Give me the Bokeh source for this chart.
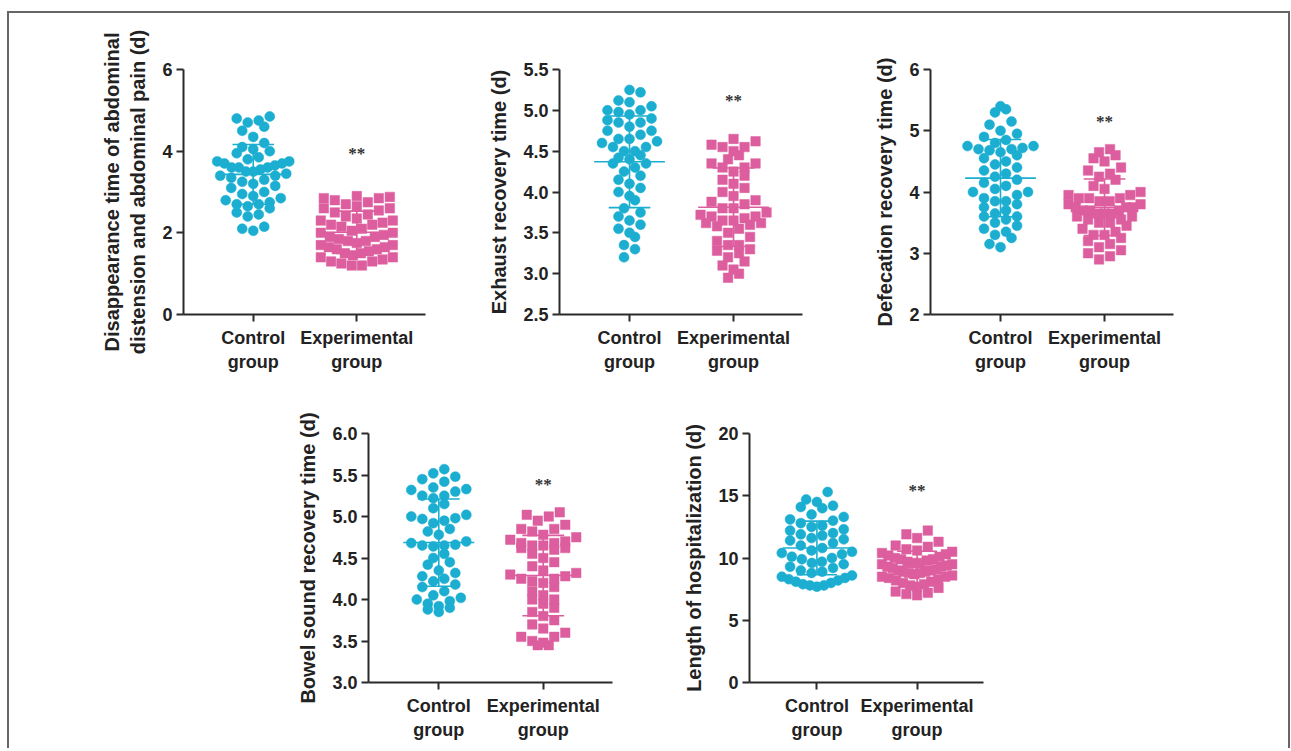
import math
import numpy as np
from bokeh.plotting import figure
from bokeh.layouts import row, column
from bokeh.models import Range1d, FixedTicker, Spacer, PrintfTickFormatter
from bokeh.embed import file_html
from bokeh.resources import INLINE

# ---------------- data ----------------
CATEGORIES = ["Control\ngroup", "Experimental\ngroup"]

P1_LABEL = "Disappearance time of abdominal\ndistension and abdominal pain (d)"
P1_CONTROL = [4.85, 4.8, 4.75, 4.7, 4.6, 4.5, 4.35, 4.2, 4.1, 4.05, 4.0, 3.95, 3.85, 3.8, 3.75,
              3.7, 3.7, 3.65, 3.6, 3.6, 3.55, 3.5, 3.5, 3.45, 3.4, 3.4, 3.35, 3.3, 3.25, 3.2,
              3.15, 3.1, 3.0, 2.95, 2.9, 2.85, 2.8, 2.75, 2.7, 2.7, 2.65, 2.6, 2.5, 2.45, 2.4,
              3.6, 3.75, 2.15, 2.1, 2.05]
P1_EXPERIMENTAL = [2.9, 2.88, 2.85, 2.8, 2.75, 2.7, 2.65, 2.6, 2.55, 2.5, 2.45, 2.4, 2.35, 2.3,
                   2.25, 2.2, 2.2, 2.15, 2.1, 2.05, 2.0, 2.0, 1.95, 1.9, 1.9, 1.85, 1.8, 1.8, 1.75,
                   1.7, 1.7, 1.65, 1.6, 1.6, 1.55, 1.5, 1.5, 1.45, 1.4, 1.4, 1.35, 1.3, 1.3, 1.25,
                   1.2, 1.2, 2.6, 2.3, 1.65, 2.85]
P1_YTICKS = [0, 2, 4, 6]
P1_STAR = 3.95

P2_LABEL = "Exhaust recovery time (d)"
P2_CONTROL = [5.25, 5.22, 5.12, 5.1, 5.05, 5.0, 5.0, 4.98, 4.95, 4.9, 4.88, 4.85, 4.8, 4.75, 4.75,
              4.7, 4.65, 4.65, 4.6, 4.55, 4.5, 4.5, 4.45, 4.4, 4.35, 4.35, 4.3, 4.25, 4.2, 4.15,
              4.1, 4.05, 4.0, 3.95, 3.9, 4.55, 4.85, 3.8, 3.75, 3.7, 3.65, 3.6, 3.55, 3.5, 3.45,
              4.42, 3.35, 3.3, 3.2, 4.62]
P2_EXPERIMENTAL = [4.65, 4.62, 4.58, 4.55, 4.5, 4.45, 4.4, 4.35, 4.3, 4.3, 4.25, 4.2, 4.15, 4.1,
                   4.05, 4.0, 3.95, 3.9, 3.88, 3.85, 3.8, 3.75, 3.72, 3.7, 3.68, 3.65, 3.65, 3.62,
                   3.6, 3.58, 3.55, 3.5, 3.45, 3.4, 3.35, 3.3, 3.28, 3.25, 3.2, 3.15, 3.1, 3.05,
                   3.0, 2.95, 3.62, 3.7, 4.35, 4.55, 3.35, 3.8]
P2_YTICKS = [2.5, 3.0, 3.5, 4.0, 4.5, 5.0, 5.5]
P2_STAR = 5.12

P3_LABEL = "Defecation recovery time (d)"
P3_CONTROL = [5.4, 5.35, 5.3, 5.15, 5.1, 5.0, 4.95, 4.9, 4.85, 4.8, 4.75, 4.75, 4.7, 4.7, 4.65,
              4.6, 4.55, 4.5, 4.45, 4.4, 4.35, 4.3, 4.25, 4.2, 4.15, 4.1, 4.05, 4.0, 4.0, 3.95,
              3.9, 3.85, 3.85, 3.8, 3.75, 3.7, 3.65, 3.6, 3.6, 3.55, 3.5, 3.45, 3.4, 3.35, 3.3,
              3.25, 3.15, 3.1, 4.72, 4.68]
P3_EXPERIMENTAL = [4.7, 4.65, 4.6, 4.55, 4.5, 4.4, 4.3, 4.25, 4.2, 4.1, 4.05, 4.0, 3.95, 3.9, 3.9,
                   3.85, 3.8, 3.8, 3.75, 3.75, 3.7, 3.7, 3.7, 3.65, 3.65, 3.6, 3.6, 3.55, 3.5, 3.5,
                   3.45, 3.4, 3.35, 3.3, 3.3, 3.25, 3.2, 3.15, 3.1, 3.05, 3.0, 2.95, 2.9, 3.85,
                   3.75, 3.65, 3.55, 3.9, 4.35, 3.95]
P3_YTICKS = [2, 3, 4, 5, 6]
P3_STAR = 5.15

P4_LABEL = "Bowel sound recovery time (d)"
P4_CONTROL = [5.57, 5.52, 5.48, 5.45, 5.42, 5.35, 5.33, 5.32, 5.3, 5.25, 5.25, 5.22, 5.15, 5.1,
              5.02, 5.0, 4.98, 4.97, 4.95, 4.92, 4.85, 4.82, 4.78, 4.7, 4.68, 4.66, 4.65, 4.65,
              4.64, 4.55, 4.5, 4.45, 4.42, 4.35, 4.32, 4.28, 4.25, 4.22, 4.18, 4.15, 4.1, 4.05,
              4.02, 4.0, 3.98, 3.95, 3.92, 3.9, 3.88, 3.85]
P4_EXPERIMENTAL = [5.05, 5.02, 5.0, 4.95, 4.9, 4.85, 4.85, 4.82, 4.78, 4.75, 4.72, 4.7, 4.68, 4.65,
                   4.62, 4.6, 4.55, 4.5, 4.45, 4.4, 4.35, 4.32, 4.3, 4.28, 4.25, 4.22, 4.2, 4.15,
                   4.1, 4.05, 4.0, 3.95, 3.9, 3.85, 3.8, 3.75, 3.7, 3.65, 3.6, 3.55, 3.5, 3.48,
                   3.45, 3.45, 4.65, 4.68, 4.62, 4.25, 3.55, 4.0]
P4_YTICKS = [3.0, 3.5, 4.0, 4.5, 5.0, 5.5, 6.0]
P4_STAR = 5.39

P5_LABEL = "Length of hospitalization (d)"
P5_CONTROL = [15.3, 14.7, 14.5, 14.2, 14.1, 14.0, 13.5, 13.3, 13.1, 13.0, 12.8, 12.6, 12.5, 12.3,
              12.0, 11.8, 11.6, 11.5, 11.4, 11.2, 11.0, 10.8, 10.6, 10.5, 10.4, 10.3, 10.1, 10.0,
              9.9, 9.7, 9.6, 9.5, 9.3, 9.2, 9.0, 8.9, 8.8, 8.6, 8.5, 8.4, 8.3, 8.2, 8.1, 8.0, 7.9,
              7.8, 7.8, 7.7, 12.2, 11.9]
P5_EXPERIMENTAL = [12.2, 11.9, 11.6, 11.3, 11.0, 10.9, 10.7, 10.5, 10.4, 10.2, 10.1, 10.0, 9.9,
                   9.8, 9.7, 9.6, 9.5, 9.5, 9.4, 9.3, 9.2, 9.1, 9.0, 9.0, 8.9, 8.9, 8.8, 8.7, 8.6,
                   8.5, 8.5, 8.4, 8.3, 8.2, 8.1, 8.0, 7.9, 7.8, 7.7, 7.6, 9.9, 10.3, 7.3, 7.2, 7.1,
                   7.0, 9.6, 9.3, 8.8, 10.6]
P5_YTICKS = [0, 5, 10, 15, 20]
P5_STAR = 15.4

# ---------------- styling ----------------
CYAN = "#1CAED0"
PINK = "#DD5E9E"
AXIS = "#2a2a2a"
FONT = "Liberation Sans"
XMIN, XMAX = 0.327, 2.663


def scatter_offsets(vals, ppu_y, ppu_x, row_h=12.0, step=11.0, half_w=36.0):
    """GraphPad-like scatter: values grouped in rows, spread horizontally (x data units)."""
    bins = {}
    for i, v in enumerate(vals):
        b = int(math.floor(v * ppu_y / row_h))
        bins.setdefault(b, []).append(i)
    offs = [0.0] * len(vals)
    for b, idx in bins.items():
        idx = sorted(idx, key=lambda i: vals[i])
        k = len(idx)
        st = step if k < 2 else min(step, 2 * half_w / (k - 1))
        pos = [(j - (k - 1) / 2.0) * st for j in range(k)]
        pos.sort(key=lambda c: (abs(c), c))
        for i, c in zip(idx, pos):
            offs[i] = c / ppu_x
    return offs


def panel(ctrl, expt, yr, yticks, ylabel, star, width, height, bl, br, bt, bb,
          fmt=None, label_size="20px", label_standoff=10):
    fw = width - bl - br
    fh = height - bt - bb
    p = figure(width=width, height=height, output_backend="svg", toolbar_location=None,
               x_range=Range1d(XMIN, XMAX), y_range=Range1d(*yr),
               min_border_left=bl, min_border_right=br, min_border_top=bt,
               min_border_bottom=bb, tools="")
    p.outline_line_color = None
    p.grid.visible = False
    p.background_fill_color = "white"
    p.border_fill_color = "white"

    ppu_y = fh / (yr[1] - yr[0])
    ppu_x = fw / (XMAX - XMIN)
    for k, (vals, color, marker, size) in enumerate(
            [(ctrl, CYAN, "circle", 10), (expt, PINK, "square", 9.5)]):
        xc = k + 1
        offs = scatter_offsets(vals, ppu_y, ppu_x)
        xs = [xc + o for o in offs]
        p.scatter(xs, vals, marker=marker, size=size, fill_color=color,
                  line_color=color, line_width=0.5)
        m = float(np.mean(vals))
        s = float(np.std(vals, ddof=1))
        p.segment(x0=[xc - 0.34], y0=[m], x1=[xc + 0.34], y1=[m], line_color=color, line_width=1.6)
        p.segment(x0=[xc - 0.2, xc - 0.2, xc], y0=[m + s, m - s, m - s],
                  x1=[xc + 0.2, xc + 0.2, xc], y1=[m + s, m - s, m + s],
                  line_color=color, line_width=1.6)

    p.text(x=[2], y=[star], text=["**"], text_align="center", text_baseline="middle",
           text_font=FONT, text_font_size="17px", text_font_style="bold", text_color="#333333")

    xa = p.xaxis[0]
    xa.ticker = FixedTicker(ticks=[1, 2])
    xa.major_label_overrides = {1: CATEGORIES[0], 2: CATEGORIES[1]}
    xa.minor_tick_line_color = None
    ya = p.yaxis[0]
    ya.ticker = FixedTicker(ticks=yticks)
    ya.minor_tick_line_color = None
    if fmt:
        ya.formatter = PrintfTickFormatter(format=fmt)
    ya.axis_label = ylabel
    ya.axis_label_standoff = label_standoff
    ya.axis_label_text_font = FONT
    ya.axis_label_text_font_style = "bold"
    ya.axis_label_text_font_size = label_size
    ya.axis_label_text_color = "#222222"
    for ax in (xa, ya):
        ax.axis_line_color = AXIS
        ax.axis_line_width = 2
        ax.major_tick_line_color = AXIS
        ax.major_tick_line_width = 2
        ax.major_tick_out = 7
        ax.major_tick_in = 0
        ax.major_label_text_font = FONT
        ax.major_label_text_font_style = "bold"
        ax.major_label_text_font_size = "18px"
        ax.major_label_text_color = "#222222"
    ya.major_label_standoff = 4
    xa.major_label_standoff = 6
    return p


f1 = panel(P1_CONTROL, P1_EXPERIMENTAL, (0, 6), P1_YTICKS, P1_LABEL, P1_STAR,
           471, 387, 174, 55, 56, 82)
f2 = panel(P2_CONTROL, P2_EXPERIMENTAL, (2.5, 5.5), P2_YTICKS, P2_LABEL, P2_STAR,
           380, 387, 79, 58, 53, 86, fmt="%.1f")
f3 = panel(P3_CONTROL, P3_EXPERIMENTAL, (2, 6), P3_YTICKS, P3_LABEL, P3_STAR,
           428, 387, 70, 115, 55, 82)
f4 = panel(P4_CONTROL, P4_EXPERIMENTAL, (3.0, 6.0), P4_YTICKS, P4_LABEL, P4_STAR,
           671, 348, 359, 68, 33, 66, fmt="%.1f")
f5 = panel(P5_CONTROL, P5_EXPERIMENTAL, (0, 20), P5_YTICKS, P5_LABEL, P5_STAR,
           608, 348, 63, 305, 33, 65)

inner = column(row(f1, f2, f3), row(f4, f5),
               styles={"border-top": "2px solid #666666", "border-left": "2px solid #666666",
                       "border-right": "2px solid #666666"})
p = column(Spacer(height=11, width=10), row(Spacer(width=7, height=10), inner))

open("out.html", "w").write(file_html(p, INLINE))
